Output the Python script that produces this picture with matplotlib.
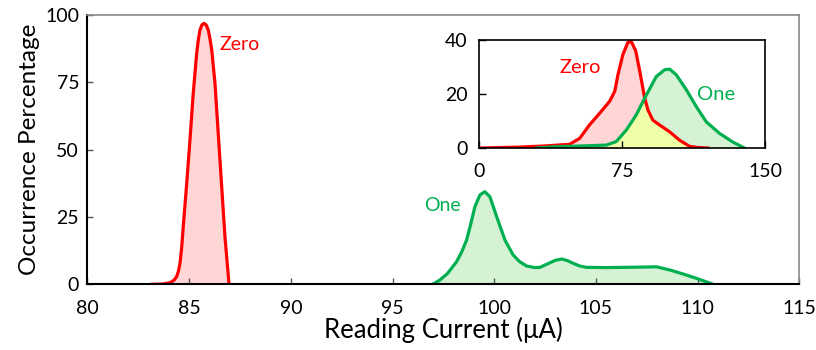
import matplotlib
matplotlib.use("Agg")
import matplotlib.pyplot as plt
import numpy as np

plt.rcParams['font.family'] = ['Lato', 'DejaVu Sans']

# Main chart data
zero_x = [83.16, 83.7, 84.06, 84.25, 84.38, 84.47, 84.55, 84.63, 84.71, 84.88, 85.04, 85.2,
          85.37, 85.45, 85.53, 85.63, 85.73, 85.84, 85.94, 86.02, 86.11, 86.27, 86.44,
          86.6, 86.76, 86.96]
zero_y = [0, 0.1, 0.6, 1.5, 2.8, 4.8, 7.8, 13.5, 21.4, 37.5, 53.6, 70.9,
          85.8, 90.8, 94.4, 96.4, 96.9, 96.3, 94.4, 91.3, 87, 74.6, 54.8,
          36.2, 17.7, 0]
one_x = [96.97, 97.33, 97.7, 98.15, 98.4, 98.64, 98.85, 99.05, 99.3, 99.54, 99.79,
         100.12, 100.53, 100.93, 101.25, 101.59, 102.0, 102.25, 102.74, 103.0, 103.31,
         103.6, 103.88, 104.2, 104.54, 105.5, 106.34, 107.3, 107.98, 108.64, 109.3,
         109.95, 110.77]
one_y = [0, 1.6, 4.0, 8.4, 12.0, 16.4, 22.5, 28.8, 33.2, 34.4, 32.5,
         25.1, 16.4, 10.9, 8.4, 6.8, 6.2, 6.3, 8.0, 8.9, 9.4,
         8.8, 7.8, 6.8, 6.3, 6.2, 6.3, 6.4, 6.5, 5.3, 3.8,
         2.2, 0]

# Inset data
in_zero_x = [0, 12, 23, 35, 47.6, 52.8, 58, 63.3, 68.5, 71.2, 72.9, 75.5, 78.1, 79.9,
             82.2, 84.3, 86.9, 88.6, 91.2, 94.8, 100, 105.2, 110.5, 115, 120.1]
in_zero_y = [0, 0.2, 0.4, 0.8, 1.4, 3.6, 8.6, 12.9, 17.3, 21, 27.2, 34.7, 39.1, 39.4,
             36, 28.5, 18.5, 14.1, 10.3, 8.5, 6, 2.9, 0.6, 0.2, 0]
in_one_x = [30.1, 40.6, 55, 66.8, 72, 77.3, 82.5, 86.9, 93, 97.4, 100, 103.5, 108.8,
            114, 119.2, 126.2, 133.2, 139.3]
in_one_y = [0, 0.5, 0.8, 1.1, 2.4, 6.7, 12.3, 18.5, 26.5, 29, 29.2, 27.1, 21.5,
            15.3, 9.7, 5.4, 2.2, 0]

main_xticks = [80, 85, 90, 95, 100, 105, 110, 115]
main_yticks = [0, 25, 50, 75, 100]
inset_xticks = [0, 75, 150]
inset_yticks = [0, 20, 40]

RED = '#FF0000'
GREEN = '#00B050'
PINK = '#FFD5D5'
LGREEN = '#D5F2D5'
YELLOW = '#EEFFA8'

fig = plt.figure(figsize=(8.16, 3.5), dpi=100)
ax = fig.add_axes([0.1072, 0.1877, 0.8723, 0.7693])

ax.fill_between(zero_x, zero_y, color=PINK, lw=0)
ax.fill_between(one_x, one_y, color=LGREEN, lw=0)
ax.plot(zero_x, zero_y, color=RED, lw=2.3, solid_joinstyle='round')
ax.plot(one_x, one_y, color=GREEN, lw=2.3, solid_joinstyle='round')
ax.text(87.5, 89, 'Zero', color=RED, fontsize=14, ha='center', va='center')
ax.text(97.45, 29.4, 'One', color=GREEN, fontsize=14, ha='center', va='center')

ax.set_xlim(80, 115)
ax.set_ylim(0, 100)
ax.set_xticks(main_xticks)
ax.set_yticks(main_yticks)
ax.tick_params(direction='in', length=4, labelsize=14, width=1, color='#555555')
ax.tick_params(axis='x', pad=11)
ax.tick_params(axis='y', pad=6)
for s in ['left', 'bottom']:
    ax.spines[s].set_color('black')
    ax.spines[s].set_linewidth(1.5)
for s in ['top', 'right']:
    ax.spines[s].set_color('#888888')
    ax.spines[s].set_linewidth(1.2)
ax.set_xlabel('Reading Current (μA)', fontsize=18.5, labelpad=0)
ax.set_ylabel('Occurrence Percentage', fontsize=17.5, labelpad=4)

# Inset
ins = fig.add_axes([0.587, 0.577, 0.3505, 0.3087])
zx = np.array(in_zero_x, dtype=float)
zy = np.array(in_zero_y, dtype=float)
ox = np.array(in_one_x, dtype=float)
oy = np.array(in_one_y, dtype=float)
ins.fill_between(zx, zy, color=PINK, lw=0)
ins.fill_between(ox, oy, color=LGREEN, lw=0)
# overlap region: lower of the two curves where both exist
ux = np.union1d(zx, ox)
ux = ux[(ux >= ox[0]) & (ux <= zx[-1])]
ov = np.minimum(np.interp(ux, zx, zy), np.interp(ux, ox, oy))
ins.fill_between(ux, ov, color=YELLOW, lw=0)
ins.plot(zx, zy, color=RED, lw=2.3, solid_joinstyle='round')
ins.plot(ox, oy, color=GREEN, lw=2.3, solid_joinstyle='round')
ins.text(53, 29.8, 'Zero', color=RED, fontsize=14.5, ha='center', va='center')
ins.text(124.3, 19.7, 'One', color=GREEN, fontsize=14.5, ha='center', va='center')
ins.set_xlim(0, 150)
ins.set_ylim(0, 40)
ins.set_xticks(inset_xticks)
ins.set_yticks(inset_yticks)
ins.tick_params(direction='in', length=5, labelsize=14, width=1)
ins.tick_params(axis='x', pad=11)
ins.tick_params(axis='y', pad=8)
for s in ins.spines.values():
    s.set_color('black')
    s.set_linewidth(1.2)

fig.savefig('out.png', dpi=100)
